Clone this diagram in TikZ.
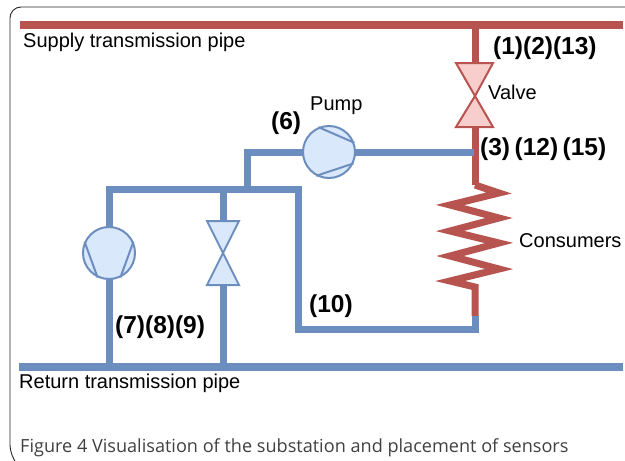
\documentclass[tikz,border=0pt]{standalone}
\usepackage{fontspec}
\setmainfont{Liberation Sans}
\newfontfamily\captionfont{Open Sans}
\usepackage{xcolor}
\definecolor{pipered}{HTML}{B85450}
\definecolor{pipeblue}{HTML}{6C8EBF}
\definecolor{valvered}{HTML}{F8CECC}
\definecolor{valveblue}{HTML}{DAE8FC}
\tikzset{
    redpipe/.style={line width=7pt, pipered},
    bluepipe/.style={line width=7pt, pipeblue},
    mainpipe/.style={line width=8pt},
    pumpnode/.style={circle, draw=pipeblue, fill=valveblue, line width=2pt, minimum size=52pt, inner sep=0pt},
    blade/.style={pipeblue, line width=2pt},
    redvalve/.style={draw=pipered, fill=valvered, line width=2pt, line join=miter},
    bluevalve/.style={draw=pipeblue, fill=valveblue, line width=2pt, line join=miter},
    plainlabel/.style={font=\fontsize{20}{24}\selectfont, anchor=west, inner sep=0pt},
    sensorlabel/.style={font=\fontsize{24.5}{28}\selectfont\bfseries, anchor=west, inner sep=0pt}
}

\begin{document}
\begin{tikzpicture}[x=1pt, y=-1pt]
    \useasboundingbox (0,0) rectangle (625,461);

    % Frame
    \draw[line width=0.9pt, black!85, rounded corners=11pt] (16,463) -- (10,456) -- (10,7) -- (625,7);

    % Junctions
    \coordinate (supplyleft) at (20,25);
    \coordinate (supplyright) at (623,25);
    \coordinate (supplytap) at (475,25);
    \coordinate (returnleft) at (19,367);
    \coordinate (returnright) at (623,367);
    \coordinate (returnpump) at (109,367);
    \coordinate (returnvalve) at (223,367);
    \coordinate (valvetop) at (475,63);
    \coordinate (valvemid) at (475,96);
    \coordinate (valvebottom) at (475,127);
    \coordinate (coiltop) at (475,185);
    \coordinate (coilbottom) at (475,287);
    \coordinate (redend) at (475,316);
    \coordinate (pumptap) at (474,152);
    \coordinate (risertop) at (247,152);
    \coordinate (riserbottom) at (247,189);
    \coordinate (headerleft) at (109,189);
    \coordinate (headerright) at (298,189);
    \coordinate (headervalve) at (223,189);
    \coordinate (loopleft) at (298,329);
    \coordinate (loopright) at (475,329);
    \coordinate (lowvalvetop) at (223,221);
    \coordinate (lowvalvemid) at (223,253);
    \coordinate (lowvalvebottom) at (223,285);

    % Red pipes
    \draw[redpipe] (supplytap) -- (valvetop);
    \draw[redpipe] (valvebottom) -- (coiltop);
    \draw[redpipe, line join=miter] (coiltop) -- (499,193) -- (450,205) -- (499,218) -- (450,231)
        -- (499,243) -- (450,256) -- (499,269) -- (450,281) -- (coilbottom) -- (redend);
    \draw[pipered, mainpipe] (supplyleft) -- (supplyright);

    % Blue pipes
    \draw[bluepipe, line join=miter] (pumptap) -- (risertop) -- (riserbottom);
    \draw[bluepipe, line join=miter] (returnpump) -- (headerleft) -- (headerright) -- (loopleft) -- (loopright) -- (redend);
    \draw[bluepipe] (headervalve) -- (lowvalvetop);
    \draw[bluepipe] (lowvalvebottom) -- (returnvalve);
    \draw[pipeblue, mainpipe] (returnleft) -- (returnright);

    % Pumps
    \node[pumpnode] (toppump) at (329,152) {};
    \draw[blade] (toppump.113) -- (toppump.20);
    \draw[blade] (toppump.242) -- (toppump.-25);
    \node[pumpnode] (leftpump) at (109,253) {};
    \draw[blade] (leftpump.155) -- (leftpump.245);
    \draw[blade] (leftpump.25) -- (leftpump.-65);

    % Valves
    \draw[redvalve] (456,63) -- (493,63) -- (valvemid) -- cycle;
    \draw[redvalve] (456,127) -- (493,127) -- (valvemid) -- cycle;
    \draw[bluevalve] (207,221) -- (239,221) -- (lowvalvemid) -- cycle;
    \draw[bluevalve] (207,285) -- (239,285) -- (lowvalvemid) -- cycle;

    % Labels
    \node[plainlabel] (supplylabel) at (23,42.5) {Supply transmission pipe};
    \node[plainlabel] (returnlabel) at (19,383.5) {Return transmission pipe};
    \node[plainlabel] (pumplabel) at (310,105.5) {Pump};
    \node[plainlabel] (valvelabel) at (488,92) {Valve};
    \node[plainlabel] (consumerlabel) at (519,241) {Consumers};
    \node[sensorlabel] (sensorsa) at (493,48.5) {(1)(2)(13)};
    \node[sensorlabel] (sensorsb) at (480,149.5) {\spaceskip=4.5pt (3) (12) (15)};
    \node[sensorlabel] (sensorsc) at (271,123.5) {(6)};
    \node[sensorlabel] (sensorsd) at (115,327) {(7)(8)(9)};
    \node[sensorlabel] (sensorse) at (309,306) {(10)};

    % Caption
    \node[anchor=west, inner sep=0pt, text=black!75, font=\captionfont\fontsize{18.1}{22}\selectfont] (caption) at (20,447.5)
        {Figure 4 Visualisation of the substation and placement of sensors};
\end{tikzpicture}
\end{document}
